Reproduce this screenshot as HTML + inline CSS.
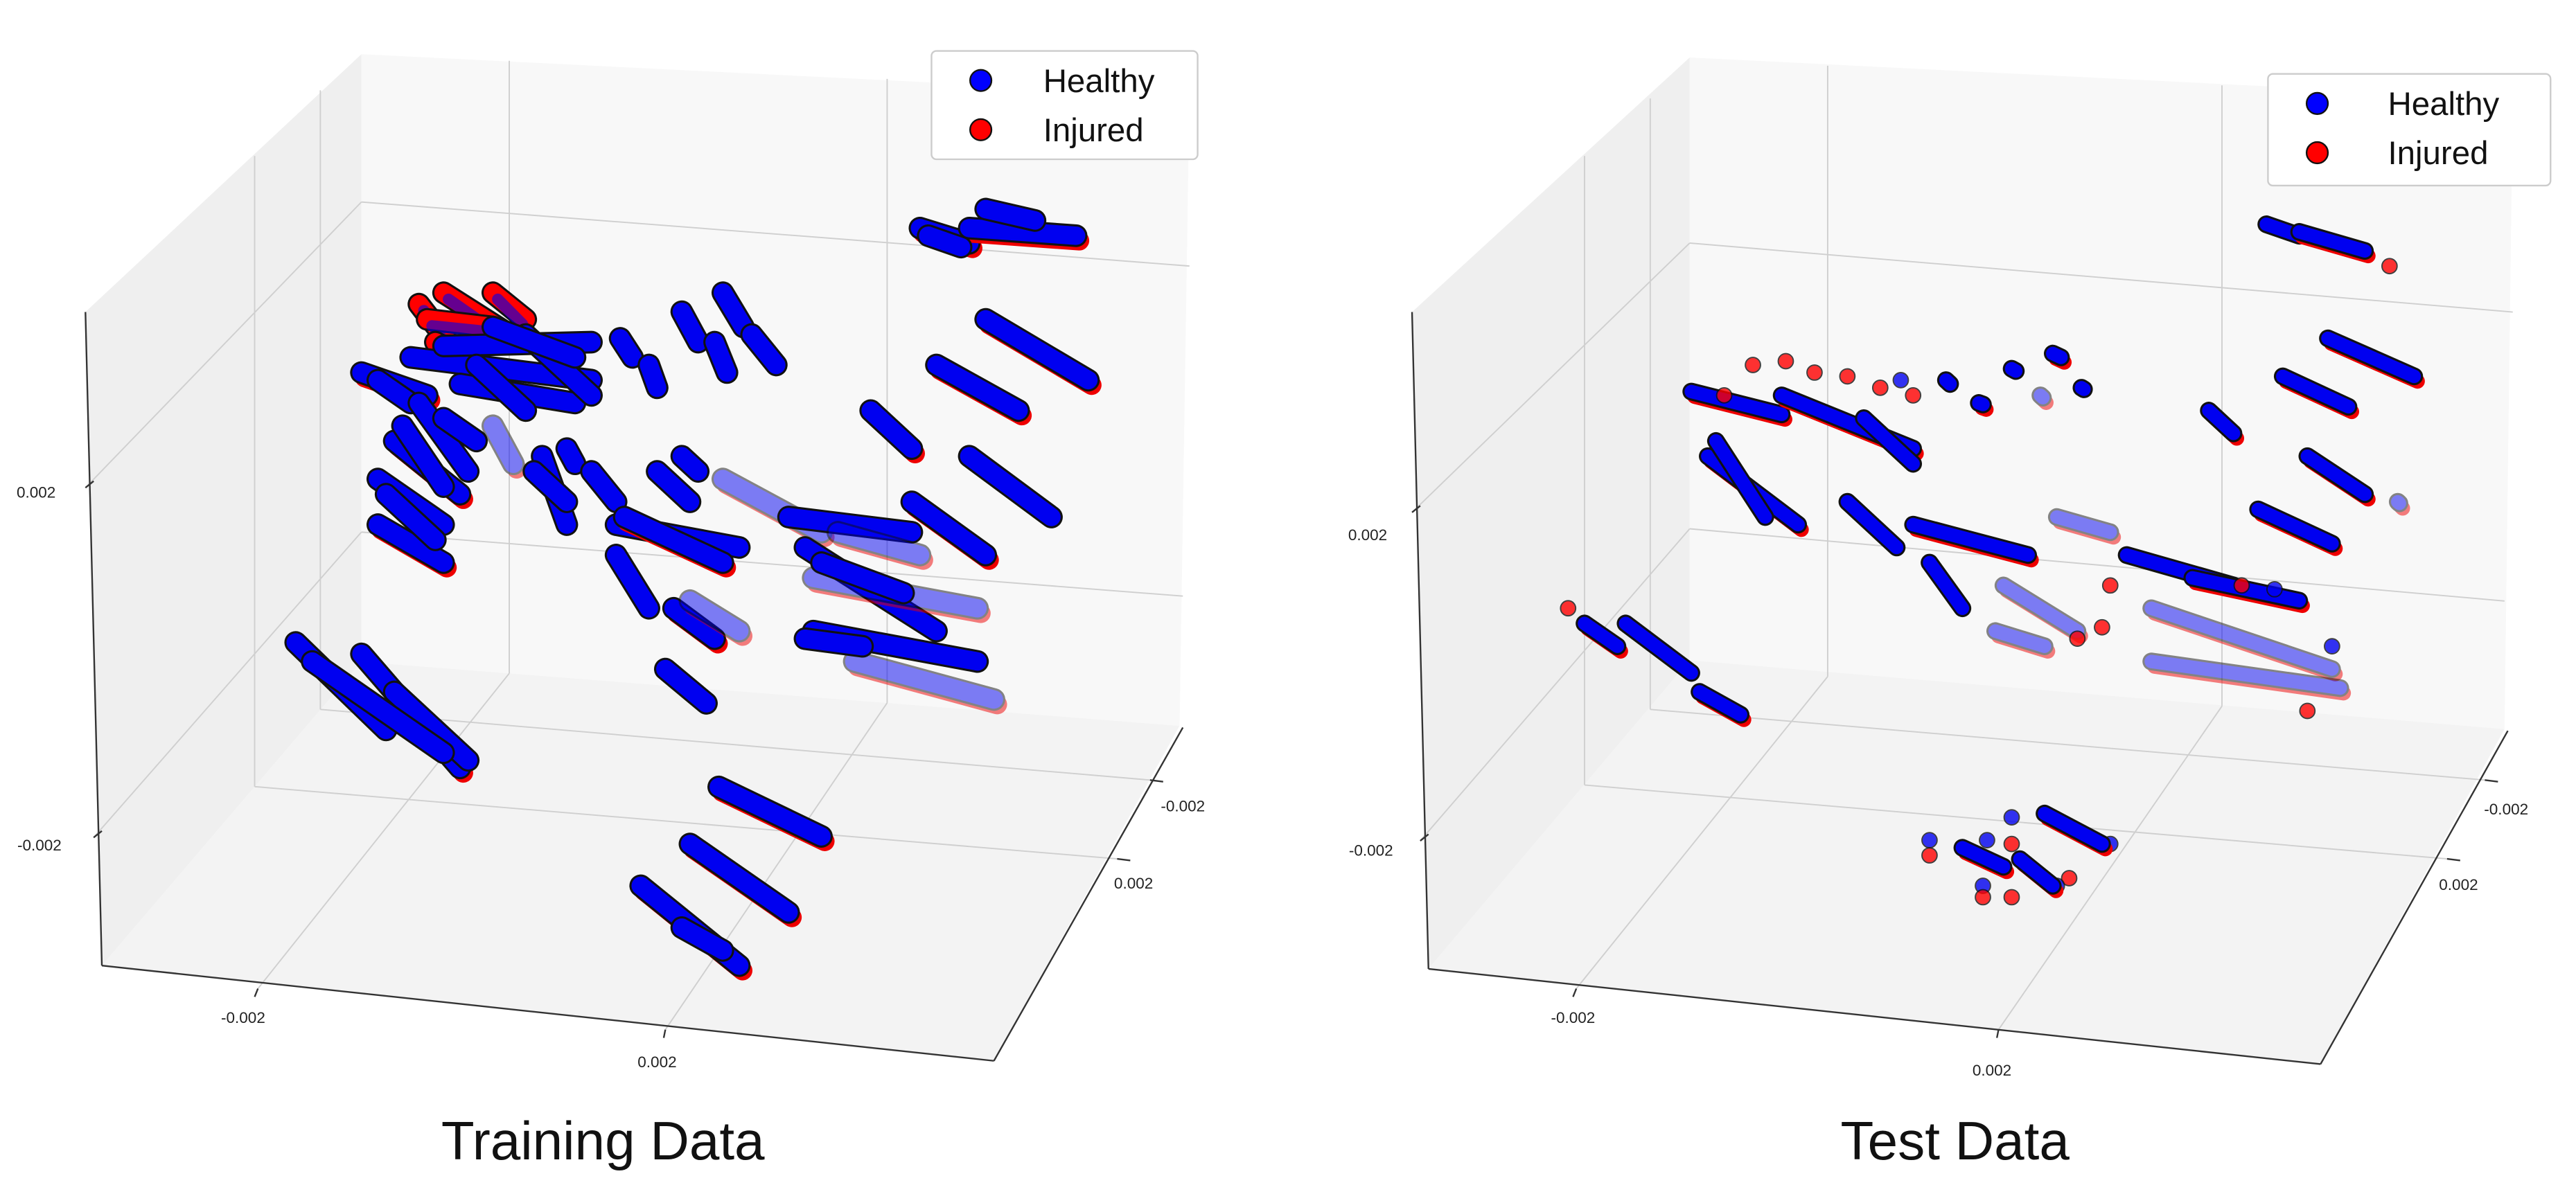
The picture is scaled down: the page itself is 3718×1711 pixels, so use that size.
<!DOCTYPE html>
<html><head><meta charset="utf-8"><style>
html,body{margin:0;padding:0;background:#fff;}
svg{display:block;}
text{font-family:"Liberation Sans","DejaVu Sans",sans-serif;}
</style></head><body>
<svg id="fig" width="3718" height="1711" viewBox="0 0 1568 721.6" preserveAspectRatio="none" xmlns="http://www.w3.org/2000/svg">
<g id="left"></g>
<g id="right"></g>
</svg>
<script>
// Categories
const classes = ["Healthy", "Injured"];
const tickLabels = ["0.002", "-0.002"];
// Training streaks (zoom-space units): x1,y1,x2,y2,kind  (b=blue w/ red fringe, B=blue, r=red, f=faded, R=red dot, D=blue dot)
const trainStreaks = [
[1120,300,1180,320,'b'],[1180,300,1310,310,'b'],[1200,275,1260,290,'B'],[1130,310,1170,325,'B'],
[510,400,560,470,'r'],[540,385,620,440,'r'],[600,385,640,420,'r'],[520,420,600,430,'r'],[530,450,580,480,'r'],
[440,490,520,520,'b'],[500,470,720,500,'B'],[540,455,720,450,'B'],[560,505,700,530,'B'],[640,440,720,520,'B'],[580,480,640,540,'B'],[460,500,500,530,'B'],[600,430,700,470,'B'],
[480,580,560,650,'b'],[510,530,570,620,'B'],[540,550,580,580,'B'],[490,560,540,640,'B'],
[460,630,540,690,'B'],[460,690,540,740,'b'],[470,650,530,710,'B'],
[600,560,625,610,'f'],[660,600,690,690,'B'],[650,620,690,660,'B'],[690,590,700,610,'B'],[720,620,750,660,'B'],
[755,445,770,470,'B'],[790,480,800,510,'B'],[830,410,850,450,'B'],[880,385,905,430,'B'],[870,450,885,490,'B'],[915,440,945,480,'B'],
[800,620,840,660,'B'],[830,600,850,620,'B'],
[750,690,900,720,'B'],[760,680,880,740,'b'],[750,730,790,800,'B'],
[820,800,870,840,'b'],[840,790,900,830,'f'],[810,880,860,925,'B'],
[880,630,1000,700,'f'],
[960,680,1110,700,'B'],[980,720,1140,830,'B'],[990,760,1190,800,'f'],[990,830,1190,870,'B'],[1040,870,1210,920,'f'],[980,840,1050,850,'B'],[1020,700,1120,730,'f'],[1000,740,1100,780,'B'],
[1200,420,1325,500,'b'],[1140,480,1240,540,'b'],[1060,540,1110,590,'b'],[1180,600,1280,680,'B'],[1110,660,1200,730,'b'],
[360,845,470,960,'B'],[440,860,560,1010,'b'],[480,910,570,1000,'B'],[380,870,540,990,'B'],
[875,1035,1000,1100,'b'],[840,1110,960,1200,'b'],[780,1165,900,1270,'b'],[830,1220,880,1250,'B']
];
// Test streaks / dots
const testStreaks = [
[1190,295,1230,310,'B'],[1230,305,1310,330,'b'],[1340,350,1345,352,'R'],
[1265,445,1370,495,'b'],[1210,495,1290,535,'b'],[1120,540,1150,570,'b'],[1240,600,1310,650,'b'],[1180,670,1270,715,'b'],[1350,660,1352,662,'f'],
[490,515,600,545,'b'],[600,520,760,590,'b'],[510,600,620,690,'b'],[520,580,580,680,'B'],[700,550,760,610,'B'],
[565,480,567,482,'R'],[605,475,607,477,'R'],[640,490,642,492,'R'],[680,495,682,497,'R'],[720,510,722,512,'R'],[760,520,762,522,'R'],[530,520,532,522,'R'],[745,500,747,502,'D'],
[680,660,740,720,'B'],[760,690,900,730,'b'],[780,740,820,800,'B'],[870,770,960,830,'f'],[860,830,920,850,'f'],
[800,500,805,505,'B'],[880,485,885,488,'B'],[930,465,940,470,'b'],[915,520,918,523,'f'],[965,510,968,512,'B'],[840,530,845,532,'b'],
[935,680,1000,700,'f'],[1020,730,1150,770,'B'],[1050,800,1270,880,'f'],[1050,870,1280,905,'f'],[1100,760,1230,790,'b'],
[1160,770,1162,772,'R'],[1200,775,1202,777,'D'],[1240,935,1242,937,'R'],[960,840,962,842,'R'],[990,825,992,827,'R'],[1000,770,1002,772,'R'],[1270,850,1272,852,'D'],
[340,800,342,802,'R'],[360,820,400,850,'b'],[410,820,490,885,'B'],[500,910,550,940,'b'],
[780,1105,782,1107,'D'],[780,1125,782,1127,'R'],[850,1105,852,1107,'D'],[880,1075,882,1077,'D'],[880,1110,882,1112,'R'],[845,1165,847,1167,'D'],[845,1180,847,1182,'R'],[880,1180,882,1182,'R'],[950,1155,952,1157,'R'],[935,1165,937,1167,'D'],[1000,1110,1002,1112,'D'],
[820,1115,870,1140,'b'],[890,1130,930,1165,'b'],[920,1070,990,1110,'b']
];
const titles = ["Training Data", "Test Data"];

const NS = "http://www.w3.org/2000/svg";
function mk(parent, tag, attrs, txt){
  const e = document.createElementNS(NS, tag);
  for (const k in attrs) e.setAttribute(k, attrs[k]);
  if (txt !== undefined) e.textContent = txt;
  parent.appendChild(e);
  return e;
}
function pts(a){ return a.map(p=>p.join(',')).join(' '); }

function panel(g, ox, box, streaks, leg, title, titleX, thick){
  const sx = z => ox + z*0.5;
  const sy = z => z*0.463;
  const P = (x,y)=>[ox+x,y];
  let e;
  e = mk(g,'polygon',{points:pts([P(...box.lt),P(...box.bt),P(...box.bb),P(...box.lb)]),fill:'#efefef',stroke:'none'});
   
  e = mk(g,'polygon',{points:pts([P(...box.bt),P(...box.rt),P(...box.rb),P(...box.bb)]),fill:'#f8f8f8',stroke:'none'});
   
  e = mk(g,'polygon',{points:pts([P(...box.lb),P(...box.bb),P(...box.rb),P(...box.fr)]),fill:'#f3f3f3',stroke:'none'});
   
  const grid = mk(g,'g',{stroke:'#cfcfcf','stroke-width':0.8,fill:'none'});
   
  box.grid.forEach(l=>{ mk(grid,'line',{x1:ox+l[0],y1:l[1],x2:ox+l[2],y2:l[3]}); });
  const ax = mk(g,'g',{stroke:'#333','stroke-width':1,fill:'none'});
   
  mk(ax,'line',{x1:ox+box.lt[0],y1:box.lt[1],x2:ox+box.lb[0],y2:box.lb[1]});
  mk(ax,'line',{x1:ox+box.lb[0],y1:box.lb[1],x2:ox+box.fr[0],y2:box.fr[1]});
  mk(ax,'line',{x1:ox+box.fr[0],y1:box.fr[1],x2:ox+box.rb[0]+2,y2:box.rb[1]+1});
  box.ticks.forEach(t=>{ mk(ax,'line',{x1:ox+t[0],y1:t[1],x2:ox+t[2],y2:t[3]}); });
  box.labels.forEach(t=>{
    const tx = mk(g,'text',{x:ox+t[0],y:t[1],'font-size':9.5,fill:'#222','text-anchor':'middle'}, tickLabels[t[2]]);
     
  });
  const dg = mk(g,'g',{'stroke-linecap':'round'});
   
  streaks.forEach(s=>{
    const x1=sx(s[0]),y1=sy(s[1]),x2=sx(s[2]),y2=sy(s[3]),k=s[4];
    const sg = mk(dg,'g',{opacity: k==='f'?0.5:1});
     
    if (k==='R'||k==='D'){
      mk(sg,'circle',{cx:x1,cy:y1,r:4.6,fill:k==='R'?'#f00':'#0000f0',stroke:'#111','stroke-width':0.8,opacity:0.8});
      return;
    }
    if (k==='b'||k==='f') mk(sg,'line',{x1:x1+2,y1:y1+3,x2:x2+2,y2:y2+3,stroke:'#e00','stroke-width':thick});
    mk(sg,'line',{x1,y1,x2,y2,stroke:'#111','stroke-width':thick+1.8});
    mk(sg,'line',{x1,y1,x2,y2,stroke:k==='r'?'#f00':'#0000f0','stroke-width':thick-0.8});
    if (k==='r') mk(sg,'line',{x1:x1+3,y1:y1+4,x2:x2-2,y2:y2+3,stroke:'#0000f0','stroke-width':thick-5,opacity:0.6});
  });
  const lg = mk(g,'g',{});
   
  mk(lg,'rect',{x:ox+leg[0],y:leg[1],width:leg[2],height:leg[3],rx:3,fill:'#fff',stroke:'#ccc','stroke-width':1});
  const cols=['#0000ff','#ff0000'];
  classes.forEach((c,i)=>{
    const cy = leg[1]+18+i*30;
    const m = mk(lg,'circle',{cx:ox+leg[0]+30,cy,r:6.5,fill:cols[i],stroke:'#111','stroke-width':1});
     
    const t = mk(lg,'text',{x:ox+leg[0]+leg[4],y:cy+7,'font-size':20,fill:'#111'},c);
     
  });
  const tt = mk(g,'text',{x:titleX,y:706,'font-size':33,fill:'#111','text-anchor':'middle'},title);
   
}

const boxL = {lt:[52,190],bt:[220,33],bb:[220,403],lb:[62,588],rt:[724,58],rb:[718,442],fr:[605,646],
  grid:[[52,297,220,123],[57,510,220,324],[220,123,724,162],[220,324,720,363],[310,37,310,410],[540,48,540,428],
        [157,602,310,410],[405,627,540,428],[155,95,155,479],[195,55,195,432],[195,432,700,475],[155,479,680,523]],
  ticks:[[52,297,57,293],[57,510,62,506],[157,602,155,607],[405,627,404,632],[700,475,708,476],[680,523,688,524]],
  labels:[[22,303,0],[24,518,1],[148,623,1],[400,650,0],[720,494,1],[690,541,0]]};
const boxR = {lt:[75,190],bt:[244,35],bb:[244,402],lb:[85,590],rt:[745,60],rb:[740,444],fr:[628,648],
  grid:[[75,312,244,148],[80,512,244,322],[244,148,745,190],[244,322,740,366],[328,40,328,412],[568,52,568,430],
        [175,602,328,412],[432,627,568,430],[180,95,180,478],[220,60,220,432],[220,432,728,475],[180,478,705,523]],
  ticks:[[75,312,80,308],[80,512,85,508],[175,602,173,607],[432,627,431,632],[728,475,736,476],[705,523,713,524]],
  labels:[[48,329,0],[50,521,1],[173,623,1],[428,655,0],[741,496,1],[712,542,0]]};

panel(document.getElementById('left'), 0, boxL, trainStreaks, [567,31,162,66,68], titles[0], 367, 12);
panel(document.getElementById('right'), 784.5, boxR, testStreaks, [596,45,172,68,73], titles[1], 1190, 9);
</script>
</body></html>
